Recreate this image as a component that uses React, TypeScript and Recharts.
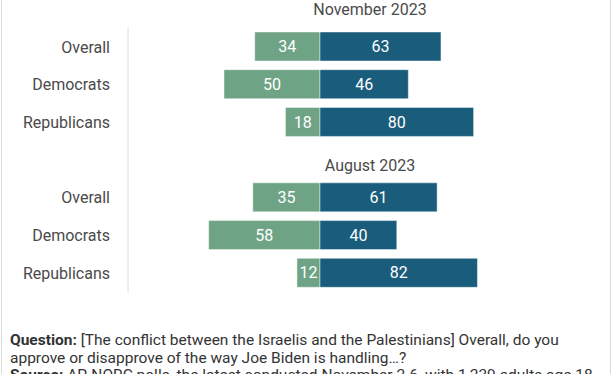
import React from "react";
import { BarChart, Bar, XAxis, YAxis, LabelList } from "recharts";

const groupTitles = ["November 2023", "August 2023"];
const groupCategories = ["Overall", "Democrats", "Republicans"];
const approveNov = [34, 50, 18];
const disapproveNov = [63, 46, 80];
const approveAug = [35, 58, 12];
const disapproveAug = [61, 40, 82];
const footnoteQuestion =
  "[The conflict between the Israelis and the Palestinians] Overall, do you";
const footnoteQuestion2 = "approve or disapprove of the way Joe Biden is handling…?";
const footnoteSource =
  "AP-NORC polls, the latest conducted November 2-6, with 1,239 adults age 18";

const GREEN = "#6fa386";
const BLUE = "#195c7b";
const W = 612;
const H = 374;
const Y_AXIS_W = 128;

type Row = {
  id: string;
  label: string;
  approve: number;
  disapprove: number;
  approveAbs: number | null;
  disapproveAbs: number | null;
};

const makeRows = (prefix: string, a: number[], d: number[]): Row[] =>
  groupCategories.map((c, i) => ({
    id: `${prefix}-${c}`,
    label: c,
    approve: -a[i],
    disapprove: d[i],
    approveAbs: a[i],
    disapproveAbs: d[i],
  }));

const rows: Row[] = [
  ...makeRows("nov", approveNov, disapproveNov),
  { id: "spacer", label: "", approve: 0, disapprove: 0, approveAbs: null, disapproveAbs: null },
  ...makeRows("aug", approveAug, disapproveAug),
];

const labelOf = (id: string) => rows.find((r) => r.id === id)?.label ?? "";

export default function App() {
  const titleX = (Y_AXIS_W + W) / 2;
  return (
    <div
      style={{
        position: "absolute",
        left: 0,
        top: 0,
        width: W,
        height: H,
        overflow: "hidden",
        background: "#fff",
        fontFamily: "Roboto, sans-serif",
      }}
    >
      <div style={{ position: "absolute", left: 1, top: 0, width: 1, height: H, background: "#dadada" }} />
      <div style={{ position: "absolute", left: 610, top: 0, width: 1, height: H, background: "#dadada" }} />
      <div style={{ position: "absolute", left: 0, top: 0 }}>
        <BarChart
          width={W}
          height={300}
          data={rows}
          layout="vertical"
          stackOffset="sign"
          barSize={29}
          margin={{ top: 28, right: 100, bottom: 8, left: 0 }}
        >
          <XAxis type="number" domain={[-100, 100]} hide />
          <YAxis
            type="category"
            dataKey="id"
            width={Y_AXIS_W}
            tickFormatter={labelOf}
            axisLine={{ stroke: "#dcdcdc" }}
            tickLine={false}
            tickSize={0}
            tickMargin={18}
            tick={{ fontSize: 16, fill: "#4a4a4a", fontFamily: "Roboto" }}
            interval={0}
          />
          <Bar
            dataKey="approve"
            stackId="a"
            fill={GREEN}
            stroke="rgba(255,255,255,0.45)"
            strokeWidth={1}
            isAnimationActive={false}
          >
            <LabelList
              dataKey="approveAbs"
              position="center"
              fill="#ffffff"
              fontSize={16}
              fontFamily="Roboto"
            />
          </Bar>
          <Bar
            dataKey="disapprove"
            stackId="a"
            fill={BLUE}
            stroke="rgba(255,255,255,0.45)"
            strokeWidth={1}
            isAnimationActive={false}
          >
            <LabelList
              dataKey="disapproveAbs"
              position="center"
              fill="#ffffff"
              fontSize={16}
              fontFamily="Roboto"
            />
          </Bar>
        </BarChart>
      </div>
      <svg
        width={W}
        height={H}
        style={{ position: "absolute", left: 0, top: 0, pointerEvents: "none" }}
      >
        <text x={titleX} y={15} textAnchor="middle" fontSize={16} fill="#4a4a4a" fontFamily="Roboto">
          {groupTitles[0]}
        </text>
        <text x={titleX} y={171} textAnchor="middle" fontSize={16} fill="#4a4a4a" fontFamily="Roboto">
          {groupTitles[1]}
        </text>
        <g fontFamily="Roboto" fontSize={15.5} fill="#333">
          <text x={10} y={345}>
            <tspan fontWeight="bold">Question:</tspan> {footnoteQuestion}
          </text>
          <text x={10} y={362.5}>
            {footnoteQuestion2}
          </text>
          <text x={10} y={380}>
            <tspan fontWeight="bold">Source:</tspan> {footnoteSource}
          </text>
        </g>
      </svg>
    </div>
  );
}
